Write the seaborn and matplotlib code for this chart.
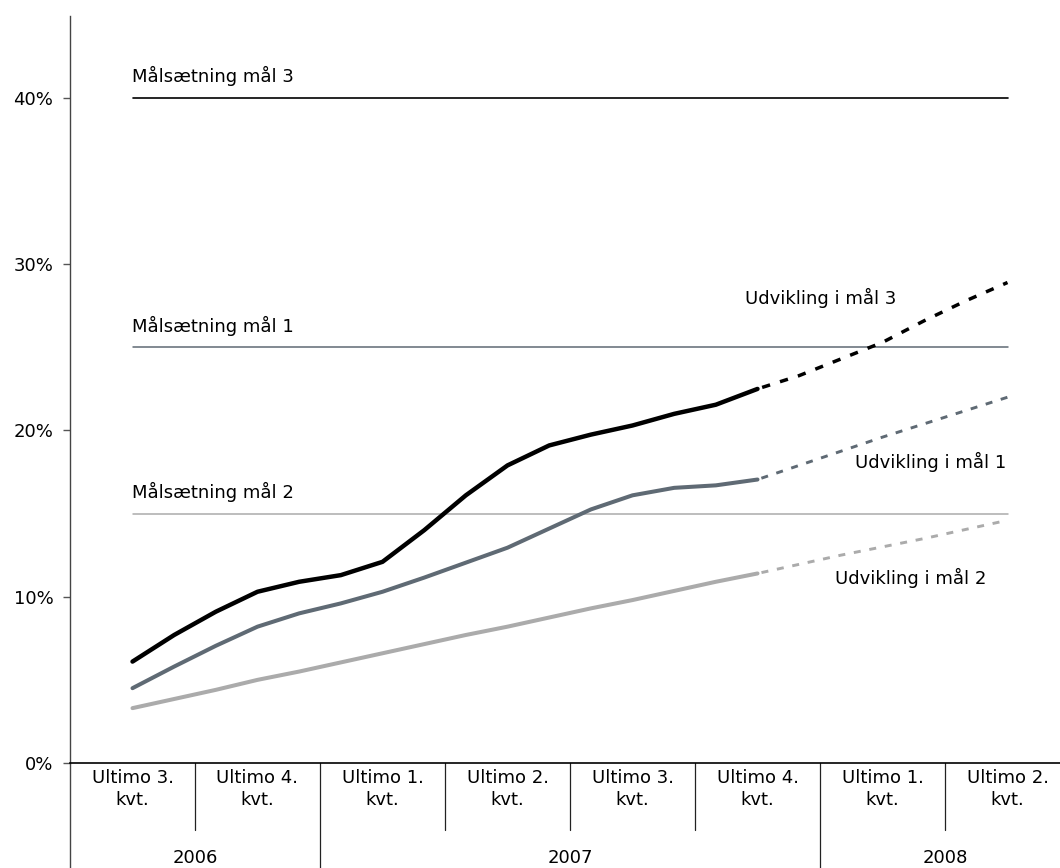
import matplotlib
matplotlib.use("Agg")
import matplotlib.pyplot as plt
import seaborn as sns
import pandas as pd

# Quarter categories on the x axis and the years they belong to
quarters = ["Ultimo 3.\nkvt.", "Ultimo 4.\nkvt.", "Ultimo 1.\nkvt.", "Ultimo 2.\nkvt.",
            "Ultimo 3.\nkvt.", "Ultimo 4.\nkvt.", "Ultimo 1.\nkvt.", "Ultimo 2.\nkvt."]
years = ["2006", "2007", "2008"]
year_spans = [(0, 1), (2, 5), (6, 7)]

# Monthly positions (in quarters) for realised and projected development
months_actual = [0, 1/3, 2/3, 1, 4/3, 5/3, 2, 7/3, 8/3, 3, 10/3, 11/3, 4, 13/3, 14/3, 5]
months_forecast = [5, 16/3, 17/3, 6, 19/3, 20/3, 7]

# Development in goal 3, goal 1 and goal 2 (percent)
goal3_actual = [6.1, 7.7, 9.1, 10.3, 10.9, 11.3, 12.1, 14.0, 16.1, 17.9, 19.1, 19.75, 20.3, 21.0, 21.55, 22.5]
goal3_forecast = [22.5, 23.3, 24.3, 25.3, 26.6, 27.8, 28.9]
goal1_actual = [4.5, 5.8, 7.05, 8.2, 9.0, 9.6, 10.3, 11.15, 12.05, 12.95, 14.1, 15.25, 16.1, 16.55, 16.7, 17.05]
goal1_forecast = [17.05, 17.9, 18.75, 19.6, 20.4, 21.2, 22.0]
goal2_actual = [3.3, 3.85, 4.4, 5.0, 5.5, 6.05, 6.6, 7.15, 7.7, 8.2, 8.75, 9.3, 9.8, 10.35, 10.9, 11.4]
goal2_forecast = [11.4, 11.95, 12.5, 13.0, 13.5, 14.05, 14.6]

# Targets (percent)
target_names = ["Målsætning mål 3", "Målsætning mål 1", "Målsætning mål 2"]
target_values = [40, 25, 15]

yticks = [0, 10, 20, 30, 40]
ytick_labels = ["0%", "10%", "20%", "30%", "40%"]

BLACK = "#000000"
SLATE = "#5f6a74"
LIGHT = "#ababab"

sns.set_theme(style="white")
plt.rcParams["font.family"] = ["DejaVu Sans"]
plt.rcParams["text.color"] = "#000000"
FS = 13

fig = plt.figure(figsize=(10.6, 8.68), dpi=100)
W, H = 1060, 868
ax = fig.add_axes([70 / W, (H - 763) / H, 1000 / W, 747 / H])

# Target lines
target_colors = [BLACK, SLATE, LIGHT]
target_lw = [1.2, 1.1, 1.1]
for name, val, col, lw in zip(target_names, target_values, target_colors, target_lw):
    df = pd.DataFrame({"x": [0, 7], "y": [val, val]})
    sns.lineplot(data=df, x="x", y="y", ax=ax, color=col, lw=lw)
    ax.text(0, val + 1.3, name, fontsize=FS, ha="left", va="center", color="#000000")

# Development lines: solid for realised, dashed for projected
series = [
    (goal3_actual, goal3_forecast, BLACK, 3.2, 2.5),
    (goal1_actual, goal1_forecast, SLATE, 2.9, 2.1),
    (goal2_actual, goal2_forecast, LIGHT, 2.9, 2.1),
]
for actual, forecast, col, lw_a, lw_f in series:
    sns.lineplot(x=months_actual, y=actual, ax=ax, color=col, lw=lw_a,
                 solid_capstyle="round", solid_joinstyle="round")
    sns.lineplot(x=months_forecast, y=forecast, ax=ax, color=col, lw=lw_f,
                 linestyle=(4.0, (2.4, 3.0)))

ax.text(4.9, 27.97, "Udvikling i mål 3", fontsize=FS, ha="left", va="center", color="#000000")
ax.text(5.78, 18.1, "Udvikling i mål 1", fontsize=FS, ha="left", va="center", color="#000000")
ax.text(5.62, 11.13, "Udvikling i mål 2", fontsize=FS, ha="left", va="center", color="#000000")

ax.set_xlim(-0.5, 7.5)
ax.set_ylim(0, 44.93)
ax.set_xlabel("")
ax.set_ylabel("")
ax.set_xticks([])
ax.set_yticks(yticks)
ax.set_yticklabels(ytick_labels, fontsize=FS, color="#000000")
ax.tick_params(axis="y", direction="out", length=5, width=1, color="#555555", pad=7, left=True)

for side in ["top", "right"]:
    ax.spines[side].set_visible(False)
ax.spines["left"].set_color("#444444")
ax.spines["left"].set_linewidth(1.0)
ax.spines["bottom"].set_color("#000000")
ax.spines["bottom"].set_linewidth(1.2)

# Category axis beneath the plot: quarter and year groups
trans = ax.get_xaxis_transform()
px = 1 / 747.0
bottom_frac = -(H - 763) * px
quarter_frac = -(830 - 763) * px

ax.plot([-0.5, -0.5], [0, bottom_frac], transform=trans, clip_on=False,
        color="#444444", lw=1.0)
year_bounds = [1.5, 5.5]
for i in range(1, len(quarters)):
    b = i - 0.5
    low = bottom_frac if b in year_bounds else quarter_frac
    ax.plot([b, b], [0, low], transform=trans, clip_on=False, color="#222222", lw=0.9)

for i, lab in enumerate(quarters):
    ax.text(i, -(789 - 763) * px, lab, transform=trans, fontsize=FS,
            ha="center", va="center", linespacing=1.25, color="#000000")

for yr, (a, b) in zip(years, year_spans):
    ax.text((a + b) / 2, -(858 - 763) * px, yr, transform=trans, fontsize=FS,
            ha="center", va="center", color="#000000")

fig.savefig("out.png", dpi=100, facecolor="white")
